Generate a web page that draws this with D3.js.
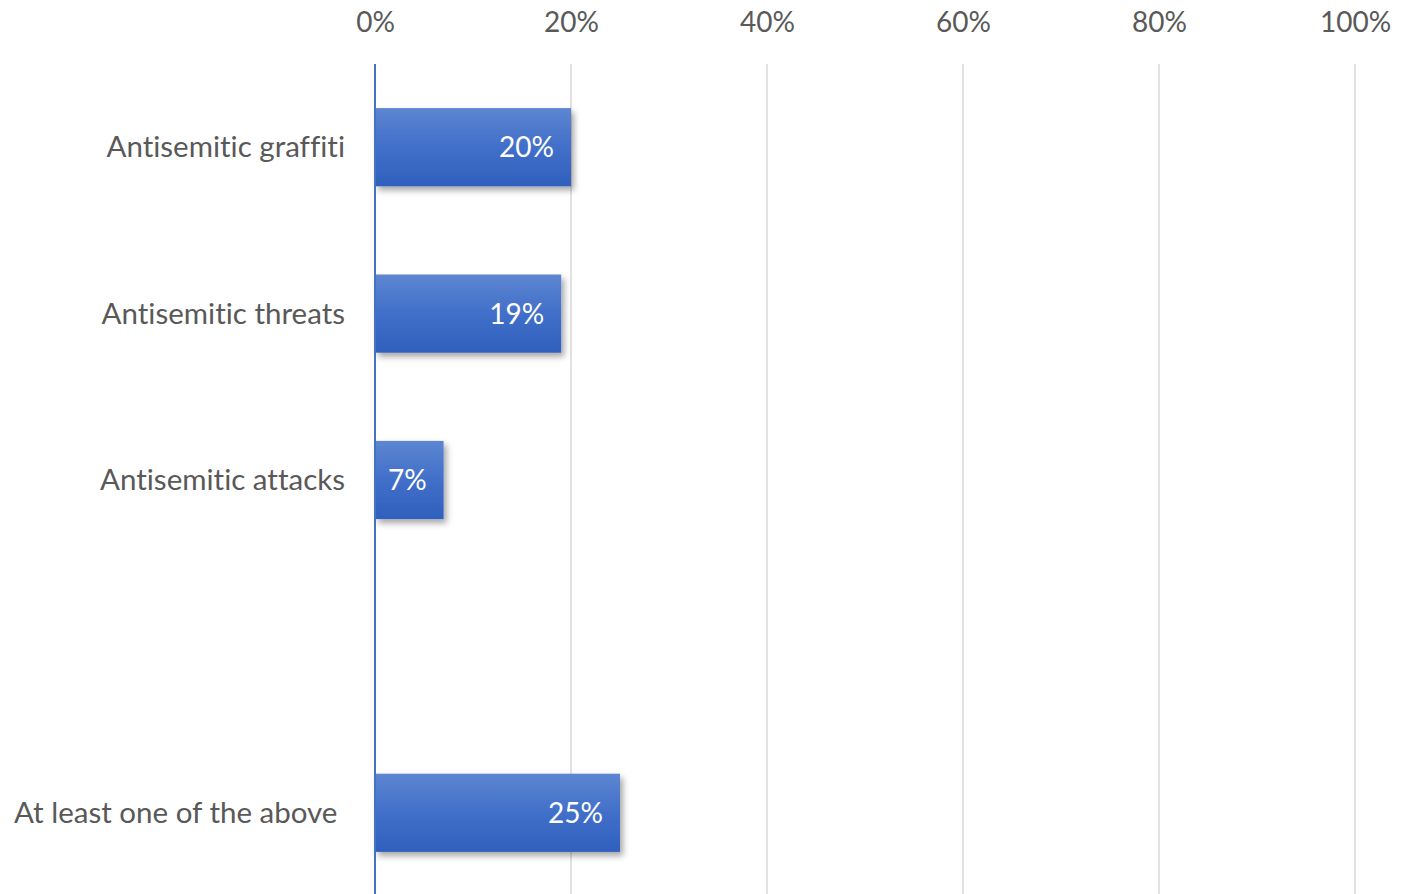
<!DOCTYPE html>
<html><head><meta charset="utf-8">
<script src="https://cdn.jsdelivr.net/npm/d3@7"></script>
<style>
html,body{margin:0;padding:0;background:#fff;}
svg{display:block;}
text{font-family:Lato,"Open Sans",sans-serif;fill:#595959;font-variant-ligatures:none;}
</style></head>
<body>
<svg id="chart" width="1417" height="894"></svg>
<script>
const categories = ["Antisemitic graffiti", "Antisemitic threats", "Antisemitic attacks", "", "At least one of the above "];
const values = [20, 19, 7, null, 25];
const tickValues = [0, 20, 40, 60, 80, 100];

const svg = d3.select("#chart");
const W = 1417, H = 894;
const x = d3.scaleLinear().domain([0, 100]).range([375, 1355]);
const y = d3.scaleBand().domain(categories).range([64, 896]).paddingInner(0.53).paddingOuter(0.265);

const defs = svg.append("defs");
const grad = defs.append("linearGradient").attr("id", "barGrad").attr("x1", 0).attr("y1", 0).attr("x2", 0).attr("y2", 1);
grad.append("stop").attr("offset", "0%").attr("stop-color", "#5d86d1");
grad.append("stop").attr("offset", "50%").attr("stop-color", "#416fc9");
grad.append("stop").attr("offset", "100%").attr("stop-color", "#2f60bd");
const f = defs.append("filter").attr("id", "shadow").attr("x", "-10%").attr("y", "-20%").attr("width", "130%").attr("height", "150%");
f.append("feDropShadow").attr("dx", 3).attr("dy", 4).attr("stdDeviation", 3).attr("flood-color", "#000").attr("flood-opacity", 0.35);

// gridlines
svg.append("g").selectAll("line").data(tickValues.filter(d => d > 0)).join("line")
  .attr("x1", d => x(d)).attr("x2", d => x(d))
  .attr("y1", 64).attr("y2", H)
  .attr("stroke", "#d9d9d9").attr("stroke-width", 1.5);

// top axis
const xAxis = d3.axisTop(x).tickValues(tickValues).tickFormat(d => d + "%").tickSize(0).tickPadding(0);
const gx = svg.append("g").attr("transform", "translate(0,32)").call(xAxis);
gx.select(".domain").remove();
gx.selectAll("text").attr("font-size", 28).attr("fill", "#595959").attr("dy", 0)
  .style("font-family", "Lato,'Open Sans',sans-serif");

const data = categories.map((c, i) => ({c, v: values[i]})).filter(d => d.v != null);

// bars
svg.append("g").selectAll("rect").data(data).join("rect")
  .attr("x", x(0)).attr("y", d => y(d.c))
  .attr("width", d => x(d.v) - x(0)).attr("height", y.bandwidth())
  .attr("fill", "url(#barGrad)").attr("filter", "url(#shadow)");

// value labels
svg.append("g").selectAll("text").data(data).join("text")
  .attr("x", d => x(d.v) - 17).attr("y", d => y(d.c) + y.bandwidth() / 2)
  .attr("dy", "0.36em").attr("text-anchor", "end")
  .attr("font-size", 28).style("fill", "#ffffff")
  .text(d => d.v + "%");

// category labels
const gy = svg.append("g").attr("transform", "translate(" + (x(0) - 30) + ",0)")
  .call(d3.axisLeft(y).tickSize(0).tickPadding(0));
gy.select(".domain").remove();
gy.selectAll("text").attr("font-size", 29.5).attr("fill", "#595959").attr("dy", "0.34em")
  .style("white-space", "pre").style("font-family", "Lato,'Open Sans',sans-serif");

// zero axis line
svg.append("line").attr("x1", x(0)).attr("x2", x(0)).attr("y1", 64).attr("y2", H)
  .attr("stroke", "#4472c4").attr("stroke-width", 2);
</script>
</body></html>
